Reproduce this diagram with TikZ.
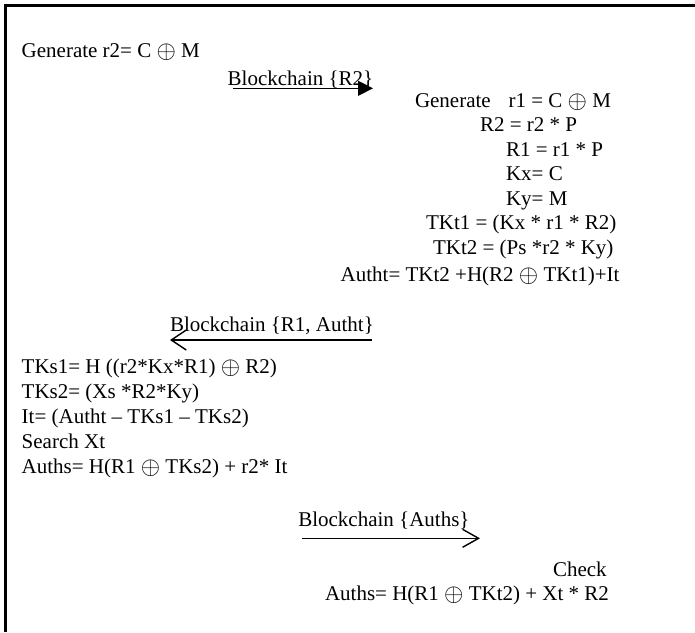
\documentclass[tikz,border=0pt]{standalone}
\usepackage{fontspec}
\usepackage{graphicx}
\setmainfont{Liberation Serif}
\usetikzlibrary{arrows.meta}
\tikzset{
  txt/.style={anchor=base west, inner sep=0pt, outer sep=0pt, font=\fontsize{21}{25}\selectfont},
  msg/.style={line width=1.4pt},
  frameline/.style={line width=2.5pt}
}
\newcommand{\xo}{\ensuremath{\smash{\vcenter{\hbox{\scalebox{1.2}{$\oplus$}}}}}}
\begin{document}
\begin{tikzpicture}[x=1pt,y=-1pt]
\useasboundingbox (0,0) rectangle (695,632);
% frame (top and left edges)
\coordinate (fTR) at (695,5.5);
\coordinate (fTL) at (5.5,5.5);
\coordinate (fBL) at (5.5,632);
\draw[frameline] (fTR) -- (fTL) -- (fBL);
% left party, first step
\node[txt] (g2) at (21.7,57) {Generate r2= C \xo{} M};
% message 1
\node[txt] (m1) at (227.7,85) {Blockchain \{R2\}};
\coordinate (a1s) at (233,88.3);
\coordinate (a1e) at (373,88.3);
\draw[msg,-{Triangle[length=15pt,width=15pt]}] (a1s) -- (a1e);
% right party
\node[txt] (r1) at (415,107) {Generate\hspace{0.6em} r1 = C \xo{} M};
\node[txt] (R2) at (480,131.5) {R2 = r2 * P};
\node[txt] (R1) at (506,156) {R1 = r1 * P};
\node[txt] (Kx) at (506,180.5) {Kx= C};
\node[txt] (Ky) at (506,205.5) {Ky= M};
\node[txt] (T1) at (426,229.5) {TKt1 = (Kx * r1 * R2)};
\node[txt] (T2) at (433,254.5) {TKt2 = (Ps *r2 * Ky)};
\node[txt] (At) at (340.7,281) {Autht= TKt2 +H(R2 \xo{} TKt1)+It};
% message 2
\node[txt] (m2) at (170,331) {Blockchain \{R1, Autht\}};
\coordinate (a2s) at (372,340);
\coordinate (a2e) at (170,340);
\draw[msg,-{Straight Barb[length=15pt,width=20pt]}] (a2s) -- (a2e);
% left party, second step
\node[txt] (S1) at (21.7,373) {TKs1= H ((r2*Kx*R1) \xo{} R2)};
\node[txt] (S2) at (21.7,398) {TKs2= (Xs *R2*Ky)};
\node[txt] (It) at (21.7,423) {It= (Autht – TKs1 – TKs2)};
\node[txt] (Xt) at (21.7,448) {Search Xt};
\node[txt] (As) at (21.7,473) {Auths= H(R1 \xo{} TKs2) + r2* It};
% message 3
\node[txt] (m3) at (298.3,526) {Blockchain \{Auths\}};
\coordinate (a3s) at (301.7,538.3);
\coordinate (a3e) at (480,538.3);
\draw[msg,-{Straight Barb[length=16pt,width=18pt]}] (a3s) -- (a3e);
% right party, check
\node[txt] (ck) at (553,576) {Check};
\node[txt] (cf) at (325,600) {Auths= H(R1 \xo{} TKt2) + Xt * R2};
\end{tikzpicture}
\end{document}
